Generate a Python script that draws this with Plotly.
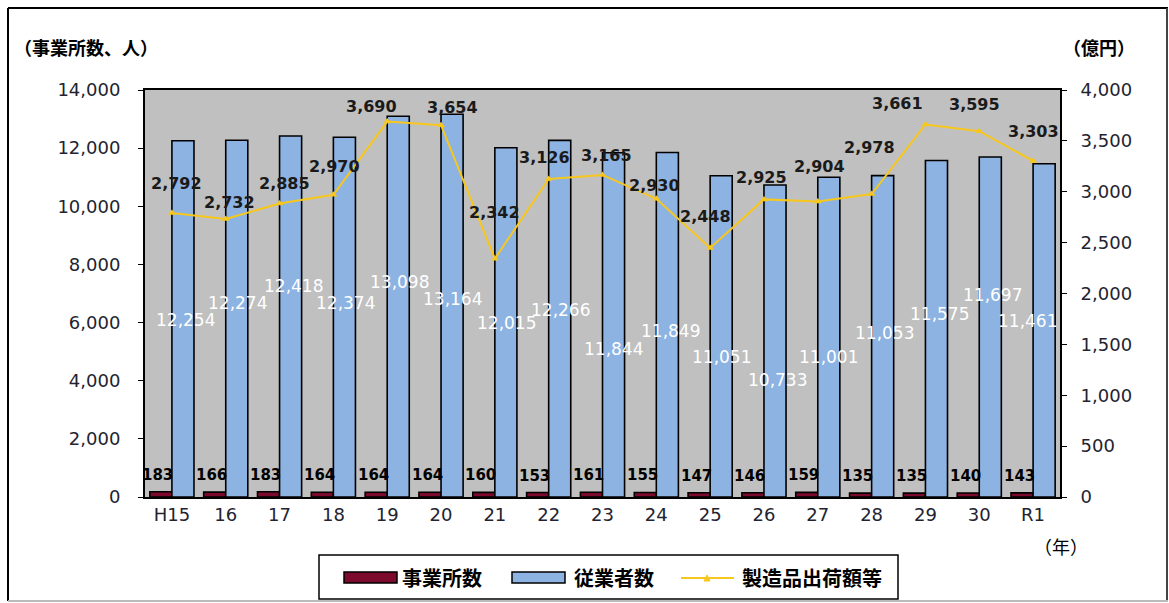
import plotly.graph_objects as go
import numpy as np

# 年次
years = ["H15", "16", "17", "18", "19", "20", "21", "22", "23",
         "24", "25", "26", "27", "28", "29", "30", "R1"]
# 事業所数
establishments = [183, 166, 183, 164, 164, 164, 160, 153, 161,
                  155, 147, 146, 159, 135, 135, 140, 143]
# 従業者数（人）
employees = [12254, 12274, 12418, 12374, 13098, 13164, 12015, 12266, 11844,
             11849, 11051, 10733, 11001, 11053, 11575, 11697, 11461]
# 製造品出荷額等（億円）
shipments = [2792, 2732, 2885, 2970, 3690, 3654, 2342, 3126, 3165,
             2930, 2448, 2925, 2904, 2978, 3661, 3595, 3303]

# label placement (layout only)
emp_label_y = [6088, 6673, 7258, 6673, 7396, 6811, 5985, 6432, 5091,
               5710, 4816, 4025, 4816, 5641, 6295, 6948, 6054]
emp_label_dx = [3, 1, 3, 1, 1, 0, 1, 1, 0, 3, 0, 2, 0, 2, 3, 2, -17]
ship_label_off = [(5, 29), (4, 17), (5, 20), (1, 28), (-16, 15), (11, 18),
                  (0, 46), (-4, 21), (4, 19), (-2, 13), (-5, 31), (-2, 22),
                  (2, 35), (-2, 46), (-28, 21), (-5, 27), (0, 29)]

RED = "#7B0A2C"
BLUE = "#8DB3E2"
GOLD = "#F7C71E"
BG = "#C0C0C0"
TXT = "#23232f"
JP = "Noto Sans CJK JP"
NUM = "DejaVu Sans"

W, H = 1169, 603
L, R, T, B = 145, 109, 90, 106
PW, PH = W - L - R, H - T - B
BARGAP = 0.18
half = (1 - BARGAP) / 4


def px(x):
    return (x - L) / PW


def py(y):
    return (H - B - y) / PH


x = np.arange(len(years))

fig = go.Figure()
fig.add_trace(go.Bar(x=x, y=establishments, name="事業所数",
                     marker=dict(color=RED, line=dict(color="black", width=1.6)),
                     yaxis="y"))
fig.add_trace(go.Bar(x=x, y=employees, name="従業者数",
                     marker=dict(color=BLUE, line=dict(color="black", width=1.6)),
                     yaxis="y"))
fig.add_trace(go.Scatter(x=x, y=shipments, name="製造品出荷額等", yaxis="y2",
                         mode="lines+markers",
                         line=dict(color=GOLD, width=2),
                         marker=dict(symbol="triangle-up", size=7, color=GOLD)))

ann = []
for i, v in enumerate(establishments):
    ann.append(dict(x=i - half, y=v, xref="x", yref="y", text=f"{v:,}",
                    showarrow=False, yshift=17, xshift=-3,
                    font=dict(family=NUM, size=15, color="black", weight="bold")))
for i, v in enumerate(employees):
    ann.append(dict(x=i + half, y=emp_label_y[i], xref="x", yref="y",
                    text=f"{v:,}", showarrow=False, xshift=emp_label_dx[i],
                    font=dict(family=NUM, size=17, color="white")))
for i, v in enumerate(shipments):
    dx, dy = ship_label_off[i]
    ann.append(dict(x=i, y=v, xref="x", yref="y2", text=f"{v:,}",
                    showarrow=False, xshift=dx, yshift=dy,
                    font=dict(family=NUM, size=16, color="#1a1a1a", weight="bold")))

# axis titles
ann.append(dict(x=px(12), y=py(47), xref="paper", yref="paper", xanchor="left",
                yanchor="middle", text="（事業所数、人）", showarrow=False,
                font=dict(family=JP, size=18, color="black", weight="bold")))
ann.append(dict(x=px(1099), y=py(47), xref="paper", yref="paper", xanchor="center",
                yanchor="middle", text="（億円）", showarrow=False,
                font=dict(family=JP, size=18, color="black", weight="bold")))
ann.append(dict(x=px(1061), y=py(546), xref="paper", yref="paper", xanchor="center",
                yanchor="middle", text="（年）", showarrow=False,
                font=dict(family=JP, size=18, color="black")))

# legend texts
for tx, label in [(400, "事業所数"), (572, "従業者数"), (740, "製造品出荷額等")]:
    ann.append(dict(x=px(tx), y=py(577), xref="paper", yref="paper", xanchor="left",
                    yanchor="middle", text=label, showarrow=False,
                    font=dict(family=JP, size=20, color="black", weight="bold")))

shapes = []
# outer frame
shapes.append(dict(type="line", xref="paper", yref="paper", x0=px(8), x1=px(8),
                   y0=py(8), y1=py(601), line=dict(color="black", width=2)))
shapes.append(dict(type="line", xref="paper", yref="paper", x0=px(8), x1=px(1168),
                   y0=py(8), y1=py(8), line=dict(color="black", width=2)))
shapes.append(dict(type="line", xref="paper", yref="paper", x0=px(1167), x1=px(1167),
                   y0=py(8), y1=py(601), line=dict(color="#444", width=2)))
shapes.append(dict(type="line", xref="paper", yref="paper", x0=px(8), x1=px(1168),
                   y0=py(601), y1=py(601), line=dict(color="#bbbbbb", width=2)))
# legend box and swatches
shapes.append(dict(type="rect", xref="paper", yref="paper", x0=px(319), x1=px(898),
                   y0=py(599), y1=py(555), line=dict(color="black", width=1.5),
                   fillcolor="white"))
shapes.append(dict(type="rect", xref="paper", yref="paper", x0=px(344), x1=px(397),
                   y0=py(583), y1=py(572), line=dict(color="black", width=1.5),
                   fillcolor=RED))
shapes.append(dict(type="rect", xref="paper", yref="paper", x0=px(512), x1=px(565),
                   y0=py(583), y1=py(572), line=dict(color="black", width=1.5),
                   fillcolor=BLUE))
shapes.append(dict(type="line", xref="paper", yref="paper", x0=px(681), x1=px(734),
                   y0=py(578), y1=py(578), line=dict(color=GOLD, width=2)))
shapes.append(dict(type="path", xref="paper", yref="paper",
                   path=f"M {px(704)} {py(581)} L {px(710)} {py(581)} L {px(707)} {py(575)} Z",
                   line=dict(color=GOLD, width=1), fillcolor=GOLD))

fig.update_layout(
    width=W, height=H,
    margin=dict(l=L, r=R, t=T, b=B),
    paper_bgcolor="white", plot_bgcolor=BG,
    barmode="group", bargap=BARGAP, bargroupgap=0,
    showlegend=False,
    xaxis=dict(range=[-0.5, len(years) - 0.5], tickvals=x, ticktext=years,
               showgrid=False, zeroline=False, showline=True, mirror=True,
               linecolor="black", linewidth=2, ticks="",
               tickfont=dict(family=NUM, size=18, color=TXT)),
    yaxis=dict(range=[0, 14000], dtick=2000, tickformat=",", showgrid=False,
               zeroline=False, showline=True, mirror=True, linecolor="black",
               linewidth=2, ticks="outside", ticklen=5, tickcolor="black",
               ticklabelstandoff=14,
               tickfont=dict(family=NUM, size=18, color=TXT)),
    yaxis2=dict(range=[0, 4000], dtick=500, tickformat=",", overlaying="y",
                side="right", showgrid=False, zeroline=False, showline=True,
                linecolor="black", linewidth=2, ticks="outside", ticklen=5,
                tickcolor="black", ticklabelstandoff=10,
                tickfont=dict(family=NUM, size=18, color=TXT)),
    annotations=ann, shapes=shapes,
)

fig.write_html("out.html")
